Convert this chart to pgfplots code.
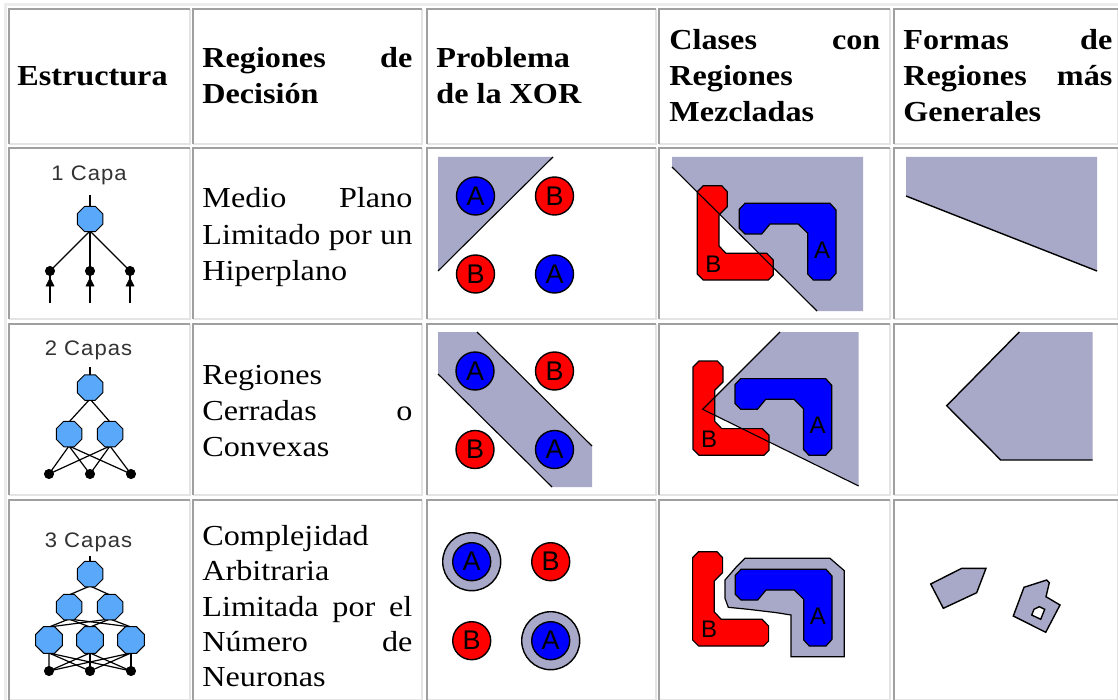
\documentclass[border=0pt]{standalone}
\usepackage{fontspec}
\setmainfont{Liberation Serif}[FakeStretch=1.11]
\newfontfamily\sansf{Liberation Sans}
\newfontfamily\pixf{Liberation Sans}[FakeStretch=1.05,LetterSpace=5]
\usepackage{pgfplots}
\pgfplotsset{compat=1.18}

\definecolor{bdark}{RGB}{160,160,160}
\definecolor{blight}{RGB}{228,228,228}
\definecolor{regfill}{RGB}{168,168,200}
\definecolor{nodeblue}{RGB}{90,168,250}
\definecolor{capgray}{RGB}{50,50,50}

% octagon mark for the neurons
\pgfdeclareplotmark{oct}{%
  \pgfpathmoveto{\pgfpointpolar{22.5}{\pgfplotmarksize}}%
  \pgfpathlineto{\pgfpointpolar{67.5}{\pgfplotmarksize}}%
  \pgfpathlineto{\pgfpointpolar{112.5}{\pgfplotmarksize}}%
  \pgfpathlineto{\pgfpointpolar{157.5}{\pgfplotmarksize}}%
  \pgfpathlineto{\pgfpointpolar{202.5}{\pgfplotmarksize}}%
  \pgfpathlineto{\pgfpointpolar{247.5}{\pgfplotmarksize}}%
  \pgfpathlineto{\pgfpointpolar{292.5}{\pgfplotmarksize}}%
  \pgfpathlineto{\pgfpointpolar{337.5}{\pgfplotmarksize}}%
  \pgfpathclose
  \pgfusepathqfillstroke}

\newcommand\lett[1]{{\sansf\fontsize{13.5}{13.5}\selectfont #1}}
\newcommand\lets[1]{{\sansf\fontsize{12}{12}\selectfont #1}}

\pgfplotsset{
  wire/.style={black, line width=0.6pt},
  cut/.style={black, line width=0.55pt},
  reg/.style={fill=regfill, draw=none},
  neuron/.style={only marks, mark=oct, mark size=6.9pt,
    mark options={fill=nodeblue, draw=black, line width=0.5pt}},
  inp/.style={only marks, mark=*, mark size=2.3pt, mark options={fill=black, draw=black}},
  disc/.style={only marks, mark=*, mark size=9.5pt,
    mark options={fill=#1, draw=black, line width=0.7pt}},
  tag/.style={nodes near coords={\lett{#1}}, nodes near coords align={center},
    every node near coord/.style={anchor=center, inner sep=0pt, text=black}},
}

% cell border: xl xr yt yb
\newcommand\cell[4]{%
  \addplot[blight, line width=1pt] coordinates {(#1,#4) (#2,#4) (#2,#3)};
  \addplot[bdark, line width=1pt] coordinates {(#1,#4) (#1,#3) (#2,#3)};
}
\newcommand\bodyf{\fontsize{14.5}{18}\selectfont}
\newcommand\hd[1]{{\bodyf\bfseries #1}}
\newcommand\bd[1]{{\bodyf #1}}
\newcommand\capa[1]{{\pixf\fontsize{10.5}{10.5}\selectfont\color{capgray}#1}}

\begin{document}
\begin{tikzpicture}
\begin{axis}[
  x=0.5pt, y=0.5pt, y dir=reverse,
  xmin=0, xmax=1118, ymin=0, ymax=700,
  hide axis, clip bounding box=upper bound]

\addplot[fill=white, draw=none] coordinates {(0,0) (1118,0) (1118,700) (0,700)} -- cycle;
% outer table border
\addplot[blight!70!white, line width=1.5pt] coordinates {(5,700) (5,5) (1118,5)};

% cell borders
\cell{9}{190}{9}{144}\cell{193}{422}{9}{144}\cell{427}{656}{9}{144}\cell{659}{890}{9}{144}\cell{894}{1118}{9}{144}
\cell{9}{190}{148}{319}\cell{193}{422}{148}{319}\cell{427}{656}{148}{319}\cell{659}{890}{148}{319}\cell{894}{1118}{148}{319}
\cell{9}{190}{324}{495}\cell{193}{422}{324}{495}\cell{427}{656}{324}{495}\cell{659}{890}{324}{495}\cell{894}{1118}{324}{495}
\cell{9}{190}{500}{700}\cell{193}{422}{500}{700}\cell{427}{656}{500}{700}\cell{659}{890}{500}{700}\cell{894}{1118}{500}{700}

% ---- 1 capa
\addplot[wire] coordinates {(90,195) (90,207)};
\addplot[wire] coordinates {(50,271) (90,231) (130,271)};
\addplot[wire] coordinates {(90,231) (90,271)};
\addplot[wire] coordinates {(50,271) (50,303)};
\addplot[wire] coordinates {(90,271) (90,303)};
\addplot[wire] coordinates {(130,271) (130,303)};
\addplot[fill=black, draw=black, line width=0.3pt] coordinates {(46,286) (50,278) (54,286)} -- cycle;
\addplot[fill=black, draw=black, line width=0.3pt] coordinates {(86,286) (90,278) (94,286)} -- cycle;
\addplot[fill=black, draw=black, line width=0.3pt] coordinates {(126,286) (130,278) (134,286)} -- cycle;
\addplot[inp] coordinates {(50,271) (90,271) (130,271)};
\addplot[neuron] coordinates {(90,219)};

% ---- 2 capas
\addplot[wire] coordinates {(90,367) (90,376)};
\addplot[wire] coordinates {(69,422) (90,399) (110,422)};
\addplot[wire] coordinates {(49,474) (69,446) (90,474)};
\addplot[wire] coordinates {(69,446) (131,474)};
\addplot[wire] coordinates {(49,474) (110,446) (131,474)};
\addplot[wire] coordinates {(110,446) (90,474)};
\addplot[inp] coordinates {(49,474) (90,474) (131,474)};
\addplot[neuron] coordinates {(90,387.5) (69,434) (110,434)};

% ---- 3 capas
\addplot[wire] coordinates {(90,556) (90,562)};
\addplot[wire] coordinates {(69,595) (90,586) (110,595)};
\addplot[wire] coordinates {(49,627) (69,619) (90,627)};
\addplot[wire] coordinates {(69,619) (131,627)};
\addplot[wire] coordinates {(49,627) (110,619) (131,627)};
\addplot[wire] coordinates {(110,619) (90,627)};
\addplot[wire] coordinates {(49,671) (49,653) (90,671)};
\addplot[wire] coordinates {(49,653) (131,671)};
\addplot[wire] coordinates {(49,671) (90,653) (131,671)};
\addplot[wire] coordinates {(90,653) (90,671)};
\addplot[wire] coordinates {(49,671) (131,653) (90,671)};
\addplot[wire] coordinates {(131,653) (131,671)};
\addplot[inp] coordinates {(49,671) (90,671) (131,671)};
\addplot[neuron] coordinates {(90,574) (69,607) (110,607)};
\addplot[neuron, mark size=7.2pt] coordinates {(49,640) (90,640) (131,640)};

% ---- XOR, 1 capa
\addplot[reg] coordinates {(438,157) (553,157) (438,271)} -- cycle;
\addplot[cut] coordinates {(553,157) (438,271)};
\addplot[disc=blue, tag=A] coordinates {(475.5,196) (554.5,274)};
\addplot[disc=red, tag=B] coordinates {(554.5,196) (475.5,274)};
% ---- XOR, 2 capas
\addplot[reg] coordinates {(438,332) (477,332) (592,446) (592,487) (552,487) (438,374)} -- cycle;
\addplot[cut] coordinates {(477,332) (592,446)};
\addplot[cut] coordinates {(438,374) (552,487)};
\addplot[disc=blue, tag=A] coordinates {(475,371) (554.5,449.5)};
\addplot[disc=red, tag=B] coordinates {(554.5,371) (475,449.5)};
% ---- XOR, 3 capas
\addplot[disc=regfill, mark size=14.5pt] coordinates {(471.7,561.7) (550.7,640.7)};
\addplot[disc=blue, tag=A] coordinates {(471.7,561.7) (550.7,640.7)};
\addplot[disc=red, tag=B] coordinates {(550.7,561.7) (471.7,640.7)};

% ---- mezcladas, 1 capa
\addplot[reg] coordinates {(672,157) (863,157) (863,311) (817,311) (672,167)} -- cycle;
\addplot[fill=red, draw=black, line width=0.6pt] coordinates {(703.3,185.7) (721.7,185.7) (727.3,191.7) (727.3,206.7) (719,215) (719,246) (726,253.3) (766.7,253.3) (773.3,260) (773.3,275) (768.3,280) (703.3,280) (697.3,274) (697.3,191.7)} -- cycle;
\addplot[fill=blue, draw=black, line width=0.6pt] coordinates {(745,203.3) (830,203.3) (836,210) (836,273.3) (830,280) (813.3,280) (807.7,274) (807.7,233.3) (798.3,224) (770,224) (761.7,234) (745,234) (739.3,228.3) (739.3,209.3)} -- cycle;
\addplot[cut] coordinates {(672,167) (817,311)};
% ---- mezcladas, 2 capas
\addplot[reg] coordinates {(780,332) (858.7,332) (858.7,486) (702.7,409.3)} -- cycle;
\addplot[fill=red, draw=black, line width=0.6pt] coordinates {(699,361) (717.4,361) (723,367) (723,382) (714.7,390.3) (714.7,421.3) (721.7,428.6) (762.4,428.6) (769,435.3) (769,450.3) (764,455.3) (699,455.3) (693,449.3) (693,367)} -- cycle;
\addplot[fill=blue, draw=black, line width=0.6pt] coordinates {(740.7,378.6) (825.7,378.6) (831.7,385.3) (831.7,448.6) (825.7,455.3) (809,455.3) (803.4,449.3) (803.4,408.6) (794,399.3) (765.7,399.3) (757.4,409.3) (740.7,409.3) (735,403.6) (735,384.6)} -- cycle;
\addplot[cut] coordinates {(780,332) (702.7,409.3) (858.7,486)};
% ---- mezcladas, 3 capas
\addplot[fill=regfill, draw=black, line width=0.6pt] coordinates {(745,558.3) (830,558.3) (844.3,570.7) (844.3,656.7) (791,656.7) (791,615) (776.7,612.7) (748.3,609.3) (728.3,607.3) (725,598.3) (725,580) (736,567.3)} -- cycle;
\addplot[fill=red, draw=black, line width=0.6pt] coordinates {(698.6,551.7) (717,551.7) (722.6,557.7) (722.6,572.7) (714.3,581) (714.3,612) (721.3,619.3) (762,619.3) (768.6,626) (768.6,641) (763.6,646) (698.6,646) (692.6,640) (692.6,557.7)} -- cycle;
\addplot[fill=blue, draw=black, line width=0.6pt] coordinates {(741,569.3) (826,569.3) (832,576) (832,639.3) (826,646) (809.3,646) (803.7,640) (803.7,599.3) (794.3,590) (766,590) (757.7,600) (741,600) (735.3,594.3) (735.3,575.3)} -- cycle;

% ---- formas generales
\addplot[reg] coordinates {(906,157) (1097,157) (1097,271) (906,196)} -- cycle;
\addplot[cut, line width=0.7pt] coordinates {(906,196) (1097,271)};
\addplot[reg] coordinates {(1019.3,332) (1092.7,332) (1092.7,460) (1000.7,460) (946.7,405.7)} -- cycle;
\addplot[cut, line width=0.7pt] coordinates {(1019.3,332) (946.7,405.7) (1000.7,460) (1092.7,460)};
\addplot[fill=regfill, draw=black, line width=0.7pt] coordinates {(930.7,584) (961.7,568.3) (986,568.3) (976.7,592.7) (943.3,608.3)} -- cycle;
\addplot[fill=regfill, draw=black, line width=0.7pt] coordinates {(1024,587.3) (1046.7,580) (1049.3,582.7) (1046,596.7) (1060,605) (1045.7,632.3) (1013.3,616)} -- cycle;
\addplot[fill=white, draw=black, line width=0.7pt] coordinates {(1034,609.3) (1039.3,606.7) (1044.7,609.3) (1040.7,619.3) (1031.7,615)} -- cycle;

% ---- letters in the mixed-class figures
\node[inner sep=0] at (axis cs:713.3,264) {\lets{B}};
\node[inner sep=0] at (axis cs:822,250) {\lets{A}};
\node[inner sep=0] at (axis cs:709,439.3) {\lets{B}};
\node[inner sep=0] at (axis cs:817.7,425.3) {\lets{A}};
\node[inner sep=0] at (axis cs:709.2,629.2) {\lets{B}};
\node[inner sep=0] at (axis cs:817.8,615.8) {\lets{A}};

\node[anchor=base, inner sep=0] at (axis cs:89,181) {\capa{1 Capa}};
\node[anchor=base, inner sep=0] at (axis cs:88.5,355) {\capa{2 Capas}};
\node[anchor=base, inner sep=0] at (axis cs:88.5,547) {\capa{3 Capas}};

% ---- header
\node[anchor=base west, inner sep=0] at (axis cs:17,86) {\hd{Estructura}};
\node[anchor=base west, inner sep=0] at (axis cs:202,68) {\hd{\makebox[105pt][s]{Regiones de}}};
\node[anchor=base west, inner sep=0] at (axis cs:202,104) {\hd{Decisión}};
\node[anchor=base west, inner sep=0] at (axis cs:436,68) {\hd{Problema}};
\node[anchor=base west, inner sep=0] at (axis cs:436,104) {\hd{de la XOR}};
\node[anchor=base west, inner sep=0] at (axis cs:669,50) {\hd{\makebox[105.5pt][s]{Clases con}}};
\node[anchor=base west, inner sep=0] at (axis cs:669,86) {\hd{Regiones}};
\node[anchor=base west, inner sep=0] at (axis cs:669,122) {\hd{Mezcladas}};
\node[anchor=base west, inner sep=0] at (axis cs:903,50) {\hd{\makebox[104.5pt][s]{Formas de}}};
\node[anchor=base west, inner sep=0] at (axis cs:903,86) {\hd{\makebox[104.5pt][s]{Regiones más}}};
\node[anchor=base west, inner sep=0] at (axis cs:903,122) {\hd{Generales}};

% ---- body
\node[anchor=base west, inner sep=0] at (axis cs:202,208) {\bd{\makebox[105pt][s]{Medio Plano}}};
\node[anchor=base west, inner sep=0] at (axis cs:202,244) {\bd{\makebox[105pt][s]{Limitado por un}}};
\node[anchor=base west, inner sep=0] at (axis cs:202,280) {\bd{Hiperplano}};
\node[anchor=base west, inner sep=0] at (axis cs:202,384) {\bd{Regiones}};
\node[anchor=base west, inner sep=0] at (axis cs:202,420) {\bd{\makebox[105pt][s]{Cerradas o}}};
\node[anchor=base west, inner sep=0] at (axis cs:202,456) {\bd{Convexas}};
\node[anchor=base west, inner sep=0] at (axis cs:202,545) {\bd{Complejidad}};
\node[anchor=base west, inner sep=0] at (axis cs:202,580) {\bd{Arbitraria}};
\node[anchor=base west, inner sep=0] at (axis cs:202,616) {\bd{\makebox[105pt][s]{Limitada por el}}};
\node[anchor=base west, inner sep=0] at (axis cs:202,651) {\bd{\makebox[105pt][s]{Número de}}};
\node[anchor=base west, inner sep=0] at (axis cs:202,686) {\bd{Neuronas}};
\end{axis}
\end{tikzpicture}
\end{document}
